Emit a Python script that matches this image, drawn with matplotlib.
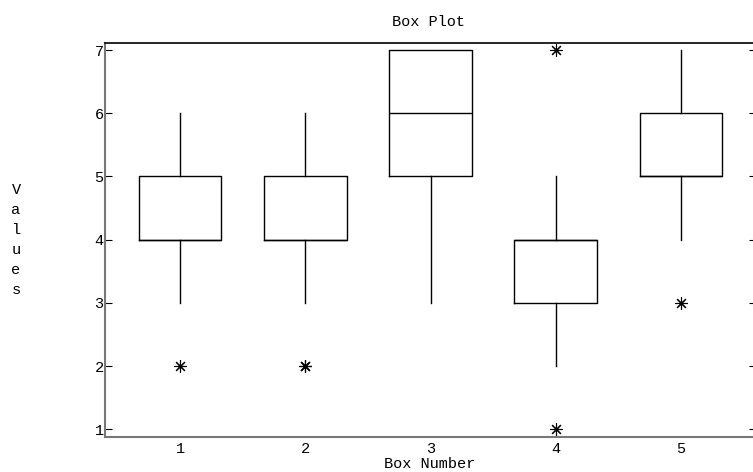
import matplotlib
matplotlib.use("Agg")
import matplotlib.pyplot as plt

positions = [1, 2, 3, 4, 5]
whislo = [3, 3, 3, 2, 4]
q1 = [4, 4, 5, 3, 5]
med = [4, 4, 6, 4, 5]
q3 = [5, 5, 7, 4, 6]
whishi = [6, 6, 7, 5, 7]
fliers = [[2], [2, 2], [], [7, 1], [3]]
yticks = [1, 2, 3, 4, 5, 6, 7]

plt.rcParams['font.family'] = ['Liberation Mono', 'DejaVu Sans']

stats = []
for i in range(len(positions)):
    stats.append(dict(whislo=whislo[i], q1=q1[i], med=med[i], q3=q3[i],
                      whishi=whishi[i], fliers=fliers[i]))

fig = plt.figure(figsize=(7.53, 4.72), dpi=100)
ax = fig.add_axes([105/753, 1-436.7/472, (756-105)/753, (436.7-42.7)/472])

lw = 1.0
ax.bxp(stats, positions=positions, widths=0.66, showcaps=False,
       boxprops=dict(color='black', linewidth=lw),
       whiskerprops=dict(color='black', linewidth=lw, linestyle='-'),
       medianprops=dict(color='black', linewidth=lw),
       flierprops=dict(marker=(8, 2, 0), markersize=9, markeredgecolor='black',
                       markeredgewidth=0.8, linestyle='none'))

ax.set_xlim(0.4, 5.6)
ax.set_ylim(0.884, 7.116)
ax.set_yticks(yticks)
ax.set_xticks(positions)
ax.set_xticklabels([str(p) for p in positions])
ax.tick_params(axis='y', direction='in', length=5, left=True, right=True,
               labelsize=11, pad=1, color='black')
ax.tick_params(axis='x', length=0, labelsize=11, pad=4)
for s in ['left', 'bottom']:
    ax.spines[s].set_color('#777777')
    ax.spines[s].set_linewidth(1.5)
ax.spines['top'].set_color('black')
ax.spines['top'].set_linewidth(1.2)
ax.spines['right'].set_visible(False)

fig.text(428/753, 1-22/472, 'Box Plot', ha='center', va='center', fontsize=11)
fig.text(430/753, 1-464/472, 'Box Number', ha='center', va='center', fontsize=11)
fig.text(16/753, 1-240/472, 'V\na\nl\nu\ne\ns', ha='center', va='center', fontsize=11,
         linespacing=1.55)

fig.savefig('out.png', dpi=100)
